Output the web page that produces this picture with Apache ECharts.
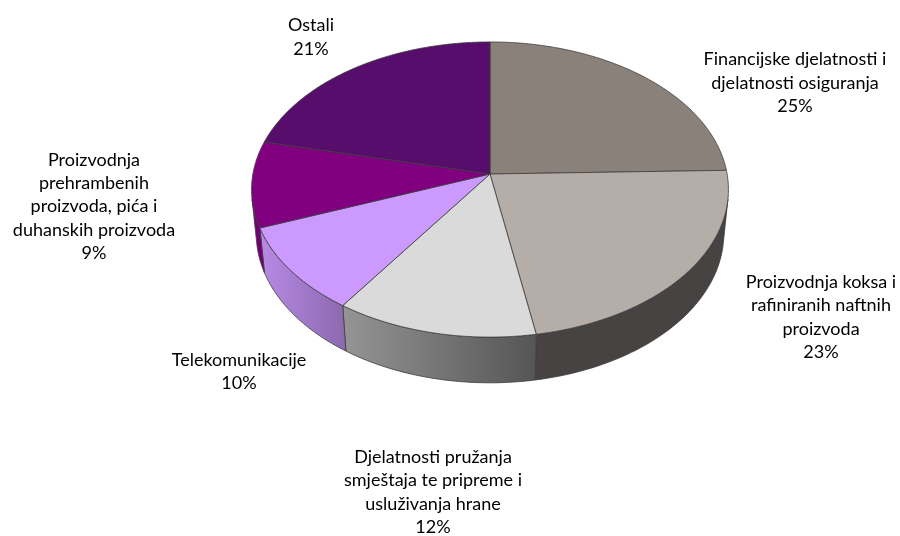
<!DOCTYPE html>
<html>
<head>
<meta charset="utf-8">
<script src="https://cdn.jsdelivr.net/npm/echarts@6/dist/echarts.min.js"></script>
<style>html,body{margin:0;padding:0;background:#fff;}#main{width:900px;height:536px;}</style>
</head>
<body>
<div id="main"></div>
<script>
// ---- data ----
const categories = [
  'Financijske djelatnosti i\ndjelatnosti osiguranja',
  'Proizvodnja koksa i\nrafiniranih naftnih\nproizvoda',
  'Djelatnosti pružanja\nsmještaja te pripreme i\nusluživanja hrane',
  'Telekomunikacije',
  'Proizvodnja\nprehrambenih\nproizvoda, pića i\nduhanskih proizvoda',
  'Ostali'
];
const values = [24.6, 22.6, 12.4, 9.6, 9.4, 21.4];

// ---- styles / layout ----
const colors = ['#8B817B', '#B5ADA8', '#DADADA', '#CC99FF', '#800080', '#570D6B'];
const labelPos = [[795, 83], [821, 317], [433, 492], [239, 371.5], [94, 206.5], [311, 37]];
const CX = 490, CY = 174, K = 1776, D = 7.49, COSA = 0.788, SINA = 0.6155, H = 0.241;

const total = values.reduce((a, b) => a + b, 0);
const starts = [];
let acc = 0;
values.forEach(v => { starts.push(acc); acc += v; });

function proj(X, Y, Z) {
  const depth = D + Z * COSA - Y * SINA;
  return [CX + K * X / depth, CY - K * (Y * COSA + Z * SINA) / depth];
}
function rim(theta, Y) { return proj(Math.sin(theta), Y, Math.cos(theta)); }
function hexToRgb(h) { return [1, 3, 5].map(i => parseInt(h.substr(i, 2), 16)); }
function shade(hex, f) {
  const c = hexToRgb(hex).map(v => Math.max(0, Math.min(255, Math.round(v * f))));
  return 'rgb(' + c.join(',') + ')';
}
function sideFactor(deg) {
  return deg <= 170 ? 0.39 : Math.min(0.9, 0.39 + (deg - 170) * 0.0066);
}

// visible side range (camera facing)
const visCos = -1 / (D * COSA);
const visLo = Math.acos(visCos);            // ~99.8 deg
const visHi = 2 * Math.PI - visLo;          // ~260.2 deg

function renderItem(params, api) {
  const i = params.dataIndex;
  const v = api.value(0);
  const a = starts[i] / total * 2 * Math.PI;
  const b = a + v / total * 2 * Math.PI;
  const children = [];
  const stroke = '#3c3c3c';

  // side wall
  const lo = Math.max(a, visLo), hi = Math.min(b, visHi);
  if (hi > lo) {
    const pts = [];
    const n = Math.max(2, Math.ceil((hi - lo) / (Math.PI / 180)));
    for (let k = 0; k <= n; k++) pts.push(rim(lo + (hi - lo) * k / n, 0));
    for (let k = n; k >= 0; k--) pts.push(rim(lo + (hi - lo) * k / n, -H));
    const fL = sideFactor(hi * 180 / Math.PI), fR = sideFactor(lo * 180 / Math.PI);
    children.push({
      type: 'polygon', z2: 1,
      shape: { points: pts },
      style: {
        fill: new echarts.graphic.LinearGradient(0, 0, 1, 0, [
          { offset: 0, color: shade(colors[i], fL) },
          { offset: 1, color: shade(colors[i], fR) }
        ]),
        stroke: stroke, lineWidth: 0.8, lineJoin: 'round'
      }
    });
  }

  // top face
  const top = [proj(0, 0, 0)];
  const m = Math.max(2, Math.ceil((b - a) / (Math.PI / 360)));
  for (let k = 0; k <= m; k++) top.push(rim(a + (b - a) * k / m, 0));
  children.push({
    type: 'polygon', z2: 2,
    shape: { points: top },
    style: { fill: colors[i], stroke: stroke, lineWidth: 0.8, lineJoin: 'round' }
  });

  // label
  const pct = Math.round(v / total * 100) + '%';
  children.push({
    type: 'text', z2: 3,
    x: labelPos[i][0], y: labelPos[i][1],
    style: {
      text: categories[i] + '\n' + pct,
      fill: '#000',
      font: '18px Lato, "Open Sans", sans-serif',
      lineHeight: 23.4,
      align: 'center',
      verticalAlign: 'middle'
    }
  });
  return { type: 'group', children: children };
}

const chart = echarts.init(document.getElementById('main'), null, { renderer: 'canvas' });
chart.setOption({
  backgroundColor: '#ffffff',
  animation: false,
  series: [{
    type: 'custom',
    coordinateSystem: 'none',
    renderItem: renderItem,
    data: values.map(v => [v])
  }]
});
</script>
</body>
</html>
